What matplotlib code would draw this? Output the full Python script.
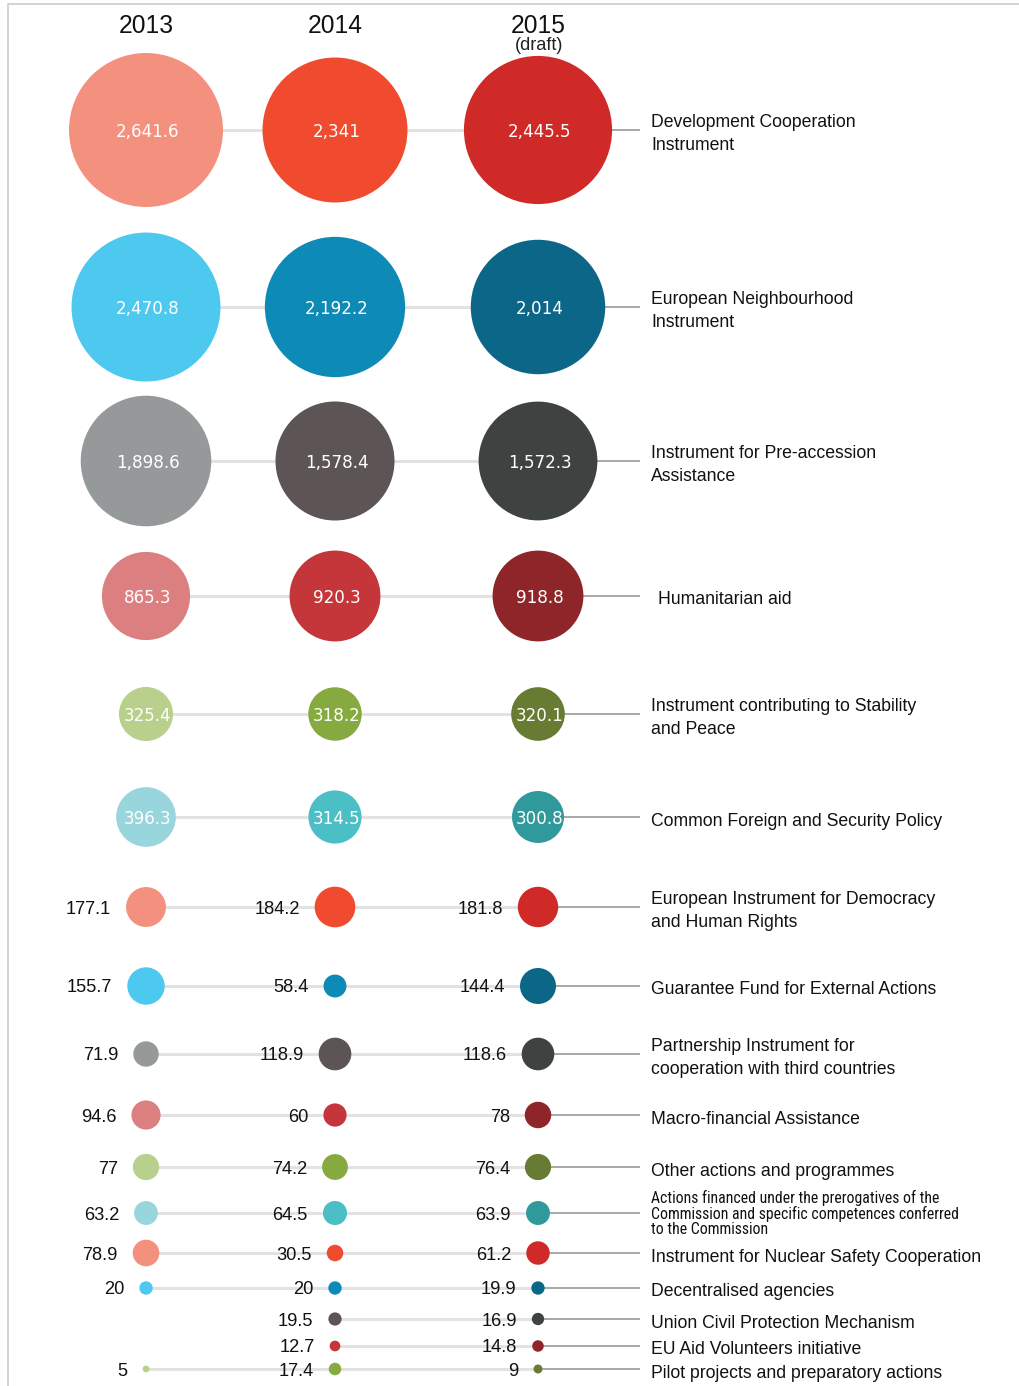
import matplotlib
matplotlib.use("Agg")
import matplotlib.pyplot as plt
from matplotlib import font_manager as fm
import numpy as np

# ---------------- data ----------------
years = ["2013", "2014", "2015"]
categories = [
    "Development Cooperation\nInstrument",
    "European Neighbourhood\nInstrument",
    "Instrument for Pre-accession\nAssistance",
    "Humanitarian aid",
    "Instrument contributing to Stability\nand Peace",
    "Common Foreign and Security Policy",
    "European Instrument for Democracy\nand Human Rights",
    "Guarantee Fund for External Actions",
    "Partnership Instrument for\ncooperation with third countries",
    "Macro-financial Assistance",
    "Other actions and programmes",
    "Actions financed under the prerogatives of the\nCommission and specific competences conferred\nto the Commission",
    "Instrument for Nuclear Safety Cooperation",
    "Decentralised agencies",
    "Union Civil Protection Mechanism",
    "EU Aid Volunteers initiative",
    "Pilot projects and preparatory actions",
]
v2013 = [2641.6, 2470.8, 1898.6, 865.3, 325.4, 396.3, 177.1, 155.7, 71.9, 94.6, 77, 63.2, 78.9, 20, None, None, 5]
v2014 = [2341, 2192.2, 1578.4, 920.3, 318.2, 314.5, 184.2, 58.4, 118.9, 60, 74.2, 64.5, 30.5, 20, 19.5, 12.7, 17.4]
v2015 = [2445.5, 2014, 1572.3, 918.8, 320.1, 300.8, 181.8, 144.4, 118.6, 78, 76.4, 63.9, 61.2, 19.9, 16.9, 14.8, 9]

palettes = [
    ["#F4907E", "#F04B2E", "#CF2A27"],
    ["#4DC8EF", "#0E8AB6", "#0B6687"],
    ["#95999A", "#5D5555", "#3E4241"],
    ["#DB7F80", "#C4363A", "#8E2528"],
    ["#B8D08C", "#86AA40", "#677B33"],
    ["#98D5DC", "#4CBEC5", "#30999B"],
]

# ---------------- layout ----------------
W, H, DPI = 1020, 1386, 100
col_x = [146, 335, 538]
row_y = [130, 307, 461, 596, 714, 817, 907, 986, 1054, 1115, 1167, 1213, 1253, 1288, 1319, 1346, 1369]
line_end_x = 640
label_x = 651
k_px = 1.498                            # bubble radius in px per sqrt(value)
s_factor = (2 * k_px * 72 / DPI) ** 2   # scatter size (pt^2) per unit value


def pick_narrow():
    prefs = ["Liberation Sans Narrow", "Roboto Condensed", "Open Sans Condensed",
             "Noto Sans", "Open Sans", "Roboto", "DejaVu Sans", "Arial Narrow"]
    best, best_score = None, None
    for f in fm.fontManager.ttflist:
        name = f.name
        st = str(f.stretch)
        is_narrow = ("Narrow" in name or "Condensed" in name or
                     st in ("condensed", "semi-condensed", "extra-condensed"))
        if not is_narrow or f.style != "normal":
            continue
        try:
            w = int(f.weight)
        except Exception:
            w = 400 if f.weight in ("normal", "regular") else 700
        if w != 400:
            continue
        rank = len(prefs)
        for i, p in enumerate(prefs):
            if name.startswith(p):
                rank = i
                break
        sc = (rank, 0 if st == "condensed" else 1)
        if best_score is None or sc < best_score:
            best, best_score = f, sc
    if best is None:
        return fm.FontProperties(family="DejaVu Sans")
    return fm.FontProperties(fname=best.fname)


narrow_fp = pick_narrow()
sans_fp = fm.FontProperties(family=["Liberation Sans", "DejaVu Sans"])
wide_fp = fm.FontProperties(family="DejaVu Sans")

fig = plt.figure(figsize=(W / DPI, H / DPI), dpi=DPI)
ax = fig.add_axes([0, 0, 1, 1])
ax.set_xlim(0, W)
ax.set_ylim(H, 0)
ax.axis("off")
renderer = fig.canvas.get_renderer()


def fit_size(text, target_px, fp, base=14.0):
    t = ax.text(0, 0, text, fontproperties=fp, fontsize=base)
    w = t.get_window_extent(renderer).width
    t.remove()
    return base * target_px / w


size_label = fit_size("Development Cooperation", 206, sans_fp)
size_small = fit_size("Commission and specific competences conferred", 309, narrow_fp)
size_val = fit_size("177.1", 46, sans_fp)
size_year = fit_size("2013", 55, sans_fp)
size_draft = fit_size("(draft)", 49, sans_fp)
size_inside = fit_size("2,641.6", 64, wide_fp)

# frame
ax.plot([8, 8, W], [H, 4, 4], color="#cccccc", lw=1.2, zorder=0)

# headers
for x, y in zip(col_x, years):
    ax.text(x, 26, y, ha="center", va="center", fontproperties=sans_fp, fontsize=size_year,
            color="#111111")
ax.text(col_x[2] + 1, 45, "(draft)", ha="center", va="center", fontproperties=sans_fp,
        fontsize=size_draft, color="#222222")

series = [v2013, v2014, v2015]


def fmt(v):
    s = f"{v:,.1f}"
    return s[:-2] if s.endswith(".0") else s


for i, cat in enumerate(categories):
    y = row_y[i]
    vals = [s[i] for s in series]
    present = [j for j, v in enumerate(vals) if v is not None]
    ax.plot([col_x[present[0]], col_x[2]], [y, y], color="#e2e2e2", lw=2.2, zorder=1,
            solid_capstyle="butt")
    ax.plot([col_x[2], line_end_x], [y, y], color="#9a9a9a", lw=1.2, zorder=1,
            solid_capstyle="butt")
    inside = max(v for v in vals if v is not None) > 250
    for j in present:
        v = vals[j]
        ax.scatter([col_x[j]], [y], s=[v * s_factor], color=palettes[i % 6][j],
                   edgecolors="none", zorder=2)
        if inside:
            ax.text(col_x[j] + 2, y + 2, fmt(v), ha="center", va="center", fontproperties=wide_fp,
                    fontsize=size_inside, color="white", zorder=3)
        else:
            r = k_px * np.sqrt(v)
            ax.text(col_x[j] - r - 15, y + 2, fmt(v), ha="right", va="center",
                    fontproperties=sans_fp, fontsize=size_val, color="#111111", zorder=3)
    small = cat.count("\n") >= 2
    lx = label_x + (7 if cat == "Humanitarian aid" else 0)
    ax.text(lx, y + (0 if small else 4), cat, ha="left", va="center",
            fontproperties=narrow_fp if small else sans_fp,
            fontsize=size_small if small else size_label, color="#111111",
            linespacing=1.0 if small else 1.5)

fig.savefig("out.png", dpi=DPI)
